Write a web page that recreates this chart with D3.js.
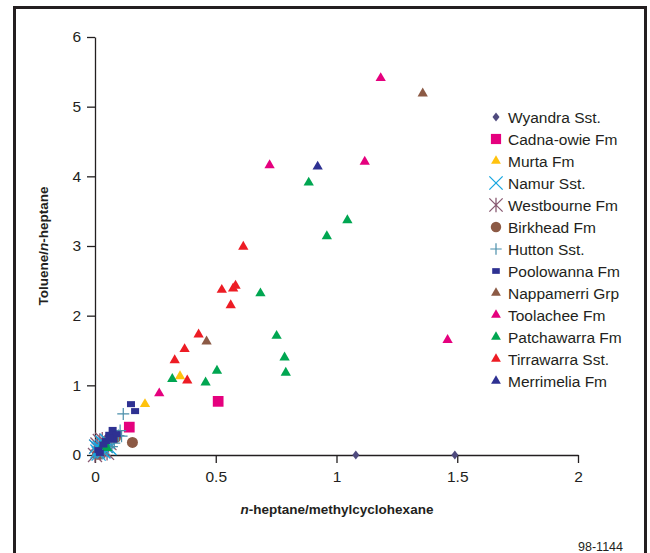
<!DOCTYPE html>
<html>
<head>
<meta charset="utf-8">
<script src="https://cdn.jsdelivr.net/npm/d3@7"></script>
<style>
html,body{margin:0;padding:0;background:#fff;}
svg{display:block;}
.tick text{font-family:"Liberation Sans Narrow","Liberation Sans",Arial,sans-serif;font-size:15.5px;fill:#231f20;}
</style>
</head>
<body>
<div id="chart"></div>
<script>
// ---------- data ----------
const seriesNames = ["Wyandra Sst.","Cadna-owie Fm","Murta Fm","Namur Sst.","Westbourne Fm","Birkhead Fm","Hutton Sst.","Poolowanna Fm","Nappamerri Grp","Toolachee Fm","Patchawarra Fm","Tirrawarra Sst.","Merrimelia Fm"];
const xTicks = [0,0.5,1,1.5,2];
const yTicks = [0,1,2,3,4,5,6];

const wyandraX = [1.08,1.49,0.01];
const wyandraY = [0.0,0.0,0.02];
const cadnaX = [0.51,0.142];
const cadnaY = [0.77,0.40];
const murtaX = [0.207,0.352];
const murtaY = [0.73,1.13];
const namurX = [0.01,0.02,0.03,0.025,0.04,0.035,0.05,0.015,0.06,0.045,0.005,0.03];
const namurY = [0.05,0.10,0.12,0.08,0.15,0.05,0.20,0.02,0.10,0.13,0.12,0.18];
const westbourneX = [0.0,0.01,0.02,0.03,0.04,0.05,0.015,0.06,0.005];
const westbourneY = [0.0,0.15,0.20,0.22,0.06,0.03,0.08,0.17,0.12];
const birkheadX = [0.155,0.085,0.01];
const birkheadY = [0.18,0.25,0.01];
const huttonX = [0.117,0.104,0.097,0.11,0.07,0.03,0.05,0.02,0.08];
const huttonY = [0.59,0.35,0.28,0.27,0.12,0.02,0.22,0.10,0.17];
const poolowannaX = [0.149,0.166,0.073,0.059,0.076,0.014,0.02,0.045,0.09,0.035,0.06];
const poolowannaY = [0.73,0.63,0.36,0.29,0.22,0.07,0.03,0.20,0.30,0.15,0.25];
const nappamerriX = [1.357,0.462];
const nappamerriY = [5.19,1.63];
const toolacheeX = [1.183,0.723,1.117,1.46,0.266];
const toolacheeY = [5.41,4.16,4.21,1.65,0.885];
const patchawarraX = [0.885,1.045,0.96,0.685,0.752,0.785,0.79,0.505,0.458,0.32,0.041,0.03,0.05];
const patchawarraY = [3.91,3.37,3.14,2.32,1.71,1.40,1.18,1.21,1.04,1.09,0.17,0.13,0.10];
const tirrawarraX = [0.614,0.525,0.572,0.582,0.562,0.429,0.371,0.33,0.382];
const tirrawarraY = [2.99,2.37,2.39,2.43,2.15,1.73,1.52,1.36,1.07];
const merrimeliaX = [0.922];
const merrimeliaY = [4.14];

const seriesX = [wyandraX,cadnaX,murtaX,namurX,westbourneX,birkheadX,huttonX,poolowannaX,nappamerriX,toolacheeX,patchawarraX,tirrawarraX,merrimeliaX];
const seriesY = [wyandraY,cadnaY,murtaY,namurY,westbourneY,birkheadY,huttonY,poolowannaY,nappamerriY,toolacheeY,patchawarraY,tirrawarraY,merrimeliaY];

// ---------- styles ----------
const colors = ["#4f4a7e","#e5007e","#ffc20e","#1aa7e0","#8a5b73","#8c5a45","#4b8fab","#2e3192","#8c5a45","#e5007e","#00a651","#ed1c24","#2e3192"];
const shapes = ["diamond","square","triangle","x","asterisk","circle","plus","rect","triangle","triangle","triangle","triangle","triangle"];

const W = 650, H = 553;
const svg = d3.select("#chart").append("svg").attr("width",W).attr("height",H);

// frame
svg.append("rect").attr("x",14.5).attr("y",7.5).attr("width",631).attr("height",600)
  .attr("fill","none").attr("stroke","#231f20").attr("stroke-width",3);

const x = d3.scaleLinear().domain([0,2]).range([95,578]);
const y = d3.scaleLinear().domain([0,6]).range([455,37]);

svg.append("g").attr("transform","translate(0,"+y(0)+")")
  .call(d3.axisBottom(x).tickValues(xTicks).tickFormat(d3.format("~g")).tickSize(8).tickSizeOuter(0).tickPadding(8));
svg.append("g").attr("transform","translate("+x(0)+",0)")
  .call(d3.axisLeft(y).tickValues(yTicks).tickFormat(d3.format("d")).tickSize(8).tickSizeOuter(0).tickPadding(6));
svg.selectAll(".domain, .tick line").attr("stroke","#231f20").attr("stroke-width",1.3);

// axis titles
const tf = '"Liberation Sans Narrow","Liberation Sans",Arial,sans-serif';
const xt = svg.append("text").attr("x",337).attr("y",514).attr("text-anchor","middle")
  .attr("font-family",tf).attr("font-weight","bold").attr("font-size",13.5).attr("fill","#231f20");
xt.append("tspan").attr("font-style","italic").text("n");
xt.append("tspan").text("-heptane/methylcyclohexane");
const yt = svg.append("text").attr("transform","translate(48,246) rotate(-90)").attr("text-anchor","middle")
  .attr("font-family",tf).attr("font-weight","bold").attr("font-size",13.5).attr("fill","#231f20");
yt.append("tspan").text("Toluene/");
yt.append("tspan").attr("font-style","italic").text("n");
yt.append("tspan").text("-heptane");

svg.append("text").attr("x",623).attr("y",551).attr("text-anchor","end")
  .attr("font-family",'"Liberation Sans",Arial,sans-serif').attr("font-size",12.5).attr("fill","#231f20").text("98-1144");

// marker drawing
function drawMarker(g, shape, color, scale){
  const s = scale || 1;
  if (shape==="triangle"){
    g.append("path").attr("d",d3.symbol(d3.symbolTriangle, 46*s*s)()).attr("fill",color);
  } else if (shape==="square"){
    g.append("path").attr("d",d3.symbol(d3.symbolSquare, 115*s*s)()).attr("fill",color);
  } else if (shape==="diamond"){
    g.append("path").attr("d","M0,-4.5L3.5,0L0,4.5L-3.5,0Z").attr("fill",color);
  } else if (shape==="circle"){
    g.append("circle").attr("r",5.5*s).attr("fill",color);
  } else if (shape==="rect"){
    g.append("rect").attr("x",-4*s).attr("y",-3*s).attr("width",8*s).attr("height",6*s).attr("fill",color);
  } else if (shape==="x"){
    const r = 7*s;
    g.append("path").attr("d",`M${-r},${-r}L${r},${r}M${-r},${r}L${r},${-r}`).attr("stroke",color).attr("stroke-width",1.3).attr("fill","none");
  } else if (shape==="asterisk"){
    const r = 7*s;
    g.append("path").attr("d",`M${-r},${-r}L${r},${r}M${-r},${r}L${r},${-r}M0,${-r*1.1}L0,${r*1.1}`).attr("stroke",color).attr("stroke-width",1.3).attr("fill","none");
  } else if (shape==="plus"){
    const r = 6*s;
    g.append("path").attr("d",`M${-r},0L${r},0M0,${-r}L0,${r}`).attr("stroke",color).attr("stroke-width",1.2).attr("fill","none");
  }
}

// points
const drawOrder = [0,1,2,5,4,3,6,10,7,8,9,11,12];
drawOrder.forEach(i=>{
  const xs = seriesX[i], ys = seriesY[i];
  xs.forEach((xv,j)=>{
    const g = svg.append("g").attr("transform",`translate(${x(xv)},${y(ys[j])})`);
    drawMarker(g, shapes[i], colors[i], 1);
  });
});

// legend
const legend = svg.append("g");
seriesNames.forEach((name,i)=>{
  const yy = 117 + i*22;
  const g = legend.append("g").attr("transform",`translate(496,${yy})`);
  drawMarker(g, shapes[i], colors[i], 0.95);
  legend.append("text").attr("x",508).attr("y",yy+5.5).attr("font-family",'"Liberation Sans",Arial,sans-serif')
    .attr("font-size",15.5).attr("fill","#231f20").text(name);
});
</script>
</body>
</html>
